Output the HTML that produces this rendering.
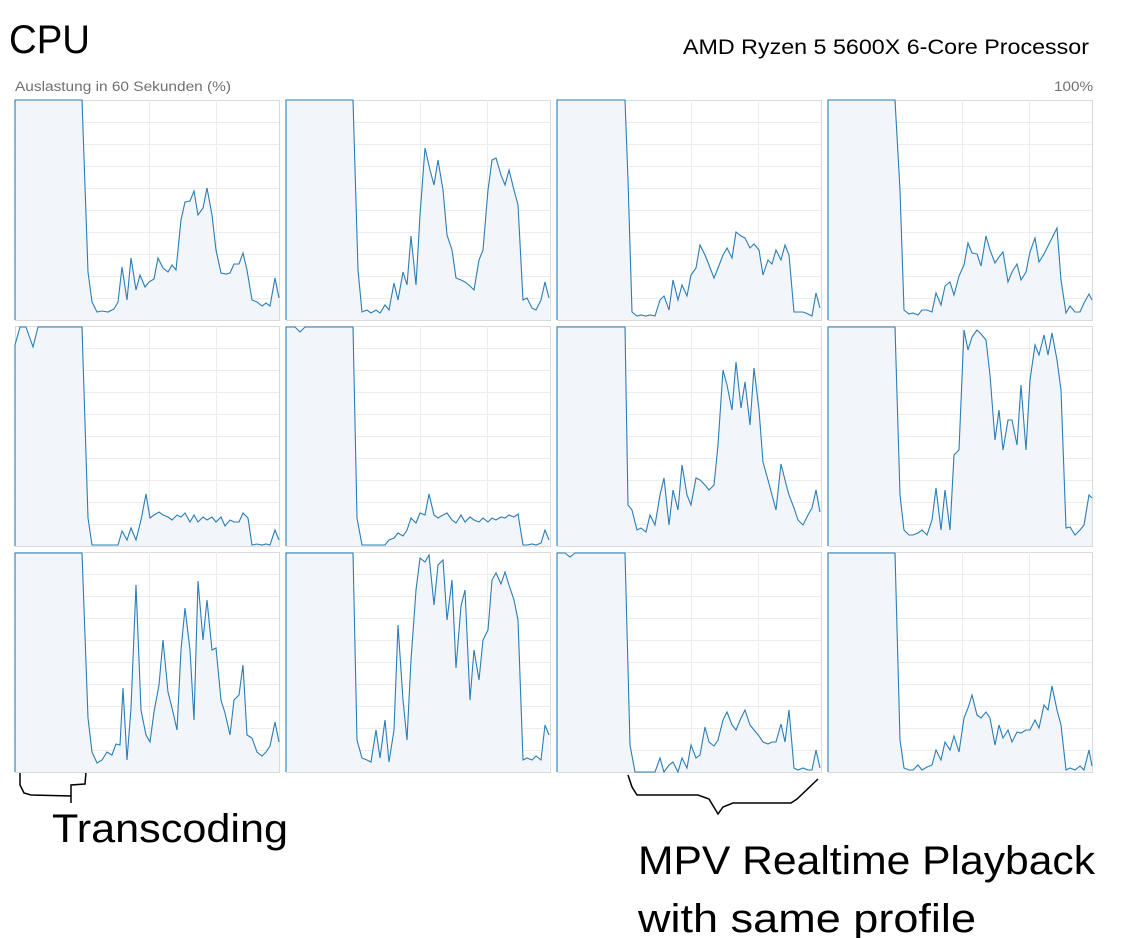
<!DOCTYPE html>
<html><head><meta charset="utf-8"><style>
html,body{margin:0;padding:0;background:#fff;width:1134px;height:938px;overflow:hidden}
svg{position:absolute;left:0;top:0}
</style></head><body>
<svg id="s" width="1134" height="938" xmlns="http://www.w3.org/2000/svg">
<text x="9" y="53" font-family="Liberation Sans, sans-serif" font-size="40" fill="#000" textLength="81" lengthAdjust="spacingAndGlyphs">CPU</text>
<text x="683" y="54" font-family="Liberation Sans, sans-serif" font-size="21" fill="#000" textLength="406" lengthAdjust="spacingAndGlyphs">AMD Ryzen 5 5600X 6-Core Processor</text>
<text x="15" y="91" font-family="Liberation Sans, sans-serif" font-size="13.5" fill="#707070" textLength="216" lengthAdjust="spacingAndGlyphs">Auslastung in 60 Sekunden (%)</text>
<text x="1054" y="91" font-family="Liberation Sans, sans-serif" font-size="13.5" fill="#707070" textLength="39" lengthAdjust="spacingAndGlyphs">100%</text>
<text x="52" y="842" font-family="Liberation Sans, sans-serif" font-size="40" fill="#000" textLength="236" lengthAdjust="spacingAndGlyphs">Transcoding</text>
<text x="638" y="874" font-family="Liberation Sans, sans-serif" font-size="40" fill="#000" textLength="457" lengthAdjust="spacingAndGlyphs">MPV Realtime Playback</text>
<text x="638" y="932" font-family="Liberation Sans, sans-serif" font-size="40" fill="#000" textLength="338" lengthAdjust="spacingAndGlyphs">with same profile</text>
<polyline points="20,773 20,785 24,793 31,795 71,796 71,803 71,785 85,784 86,772" fill="none" stroke="#000" stroke-width="1.5"/>
<polyline points="628,775 632,787 637,795 698,795 709,799 718,814 723,807 733,803 791,803 797,799 818,779" fill="none" stroke="#000" stroke-width="1.5"/>
<g id="g"></g>
</svg>
<script>
var cols=[15,286,557,828],rows=[100,326,552],W=264,H=220;
var D=[
[[15,100],[82,100],[88,272],[92,302],[97,312],[102,311],[108,312],[114,309],[118,302],[122,267],[127,300],[131,258],[136,290],[140,275],[145,287],[149,282],[154,279],[158,258],[163,268],[168,272],[172,265],[176,270],[181,220],[185,202],[190,201],[194,191],[198,215],[203,208],[207,188],[212,215],[216,250],[221,273],[226,274],[230,273],[234,264],[239,264],[243,253],[247,270],[252,300],[257,302],[262,306],[266,303],[270,306],[275,278],[279,298]],
[[286,100],[353,100],[358,270],[362,312],[367,310],[371,313],[376,310],[380,313],[385,305],[389,310],[394,283],[398,300],[403,272],[407,285],[411,236],[416,285],[420,215],[425,148],[430,170],[434,185],[438,160],[443,190],[447,235],[452,250],[456,278],[461,280],[465,282],[470,286],[474,290],[479,260],[483,250],[488,190],[492,160],[496,158],[501,175],[505,185],[509,170],[514,190],[518,205],[523,300],[527,298],[532,308],[536,310],[541,300],[545,282],[549,298]],
[[557,100],[625,100],[628,180],[632,312],[637,316],[641,315],[646,316],[650,315],[655,316],[660,300],[664,296],[669,310],[673,280],[678,300],[682,285],[687,296],[691,275],[696,268],[700,245],[705,255],[709,265],[714,278],[718,268],[723,255],[727,248],[732,258],[736,232],[741,236],[745,238],[750,248],[754,244],[759,250],[763,275],[768,260],[772,264],[776,250],[781,260],[785,245],[789,255],[794,312],[798,312],[803,312],[808,314],[812,316],[816,293],[820,308]],
[[828,100],[895,100],[900,190],[904,310],[909,314],[913,313],[918,315],[922,310],[927,310],[932,312],[936,293],[941,305],[945,286],[950,282],[954,295],[959,276],[964,265],[968,243],[972,253],[977,254],[981,266],[986,236],[990,250],[995,263],[999,257],[1003,252],[1008,282],[1012,272],[1017,264],[1021,280],[1026,272],[1030,252],[1035,238],[1039,262],[1044,254],[1048,246],[1052,238],[1057,228],[1061,280],[1066,313],[1070,306],[1075,312],[1080,312],[1084,303],[1089,294],[1092,300]],
[[15,345],[20,327],[26,327],[33,347],[38,327],[82,327],[88,518],[92,545],[118,545],[122,531],[127,540],[131,528],[136,540],[141,520],[146,494],[150,518],[154,515],[159,512],[163,515],[168,517],[172,520],[177,515],[181,517],[185,513],[190,522],[194,515],[198,522],[203,517],[207,520],[212,517],[216,522],[221,517],[225,526],[230,520],[234,522],[239,522],[243,513],[248,518],[252,545],[257,544],[262,545],[266,544],[270,545],[275,530],[279,540]],
[[286,327],[295,327],[300,332],[305,327],[353,327],[357,518],[362,545],[385,545],[389,540],[394,538],[398,533],[403,536],[407,530],[411,518],[416,523],[420,513],[425,515],[429,494],[434,515],[438,518],[443,515],[447,513],[452,520],[456,523],[461,515],[465,522],[470,517],[474,520],[479,522],[483,518],[488,522],[492,518],[496,520],[501,517],[505,518],[509,515],[514,517],[518,514],[523,545],[527,545],[532,544],[536,545],[541,543],[545,530],[549,540]],
[[557,327],[625,327],[628,505],[632,510],[637,530],[641,528],[646,532],[650,515],[655,525],[660,495],[664,478],[669,525],[673,490],[678,510],[682,465],[687,495],[691,505],[696,478],[700,480],[705,485],[709,490],[714,485],[718,445],[723,370],[727,385],[732,410],[736,362],[741,408],[745,382],[750,425],[754,368],[759,410],[763,462],[768,480],[772,495],[776,510],[781,464],[785,480],[789,495],[794,508],[798,520],[803,525],[808,515],[812,508],[816,490],[820,512]],
[[828,327],[895,327],[900,495],[904,530],[909,535],[913,535],[918,533],[922,530],[927,535],[932,520],[936,488],[941,530],[945,490],[950,530],[954,455],[959,450],[964,330],[968,350],[972,337],[977,330],[981,334],[986,340],[990,375],[995,440],[999,410],[1003,450],[1008,420],[1012,420],[1017,445],[1021,385],[1026,450],[1030,380],[1035,345],[1039,355],[1044,335],[1048,355],[1052,333],[1057,360],[1061,390],[1066,528],[1070,527],[1075,535],[1080,530],[1084,525],[1089,495],[1092,498]],
[[15,553],[82,553],[88,718],[92,752],[97,763],[102,760],[107,752],[112,755],[116,744],[120,745],[123,688],[127,760],[131,708],[136,585],[141,710],[146,735],[150,742],[154,712],[159,685],[163,640],[168,692],[173,712],[177,730],[181,650],[185,608],[190,650],[194,720],[198,581],[203,640],[207,600],[212,650],[216,648],[221,700],[225,713],[230,735],[234,700],[239,695],[243,665],[247,735],[252,738],[257,752],[262,756],[266,752],[270,746],[275,722],[279,742]],
[[286,553],[353,553],[357,740],[362,758],[367,760],[371,762],[376,730],[380,758],[385,720],[389,762],[394,730],[398,625],[403,700],[407,740],[411,660],[416,590],[420,558],[425,562],[429,555],[434,605],[438,565],[443,560],[447,620],[452,580],[456,668],[461,606],[465,590],[470,700],[474,650],[479,680],[483,640],[488,630],[492,580],[496,573],[501,584],[505,572],[509,585],[514,600],[518,620],[523,760],[527,758],[532,760],[536,756],[541,760],[545,725],[549,735]],
[[557,553],[565,553],[570,557],[575,553],[625,553],[630,745],[635,772],[655,772],[660,758],[664,772],[669,765],[673,762],[678,772],[682,758],[687,768],[691,745],[696,758],[700,755],[705,727],[709,742],[714,746],[718,740],[723,720],[727,712],[732,725],[736,730],[741,718],[745,710],[750,725],[754,730],[759,736],[763,742],[768,744],[772,742],[776,742],[781,724],[785,742],[789,710],[794,768],[798,770],[803,768],[808,770],[812,770],[816,750],[820,768]],
[[828,553],[895,553],[900,740],[904,768],[909,770],[913,770],[918,765],[922,770],[927,767],[932,765],[936,750],[941,760],[945,742],[950,750],[954,736],[959,752],[964,718],[968,708],[972,695],[977,715],[981,718],[986,712],[990,718],[995,745],[999,725],[1003,738],[1008,730],[1012,742],[1017,732],[1021,733],[1026,730],[1030,730],[1035,720],[1039,728],[1044,705],[1048,710],[1052,686],[1057,710],[1061,725],[1066,770],[1070,768],[1075,770],[1080,766],[1084,770],[1089,750],[1092,766]]
];
var h='';
for(var r=0;r<3;r++)for(var c=0;c<4;c++){
 var x=cols[c],y=rows[r],b=y+H;
 h+='<rect x="'+(x+.5)+'" y="'+(y+.5)+'" width="'+W+'" height="'+H+'" fill="#fff" stroke="#dadada"/>';
 for(var i=1;i<10;i++)h+='<line x1="'+x+'" x2="'+(x+W)+'" y1="'+(y+i*22+.5)+'" y2="'+(y+i*22+.5)+'" stroke="#ececec"/>';
 for(var j=1;j<4;j++)h+='<line y1="'+y+'" y2="'+b+'" x1="'+(x+j*67+.5)+'" x2="'+(x+j*67+.5)+'" stroke="#ececec"/>';
 var p=D[r*4+c],s=p.map(function(q){return q[0]+','+q[1]}).join(' ');
 var last=p[p.length-1][0];
 h+='<polygon points="'+x+','+b+' '+s+' '+last+','+b+'" fill="#f1f6fa" fill-opacity="0.95"/>';
 h+='<polyline points="'+x+','+b+' '+s+'" fill="none" stroke="#2a7db6" stroke-width="1.1"/>';
}
document.getElementById('g').innerHTML=h;
</script>
</body></html>
